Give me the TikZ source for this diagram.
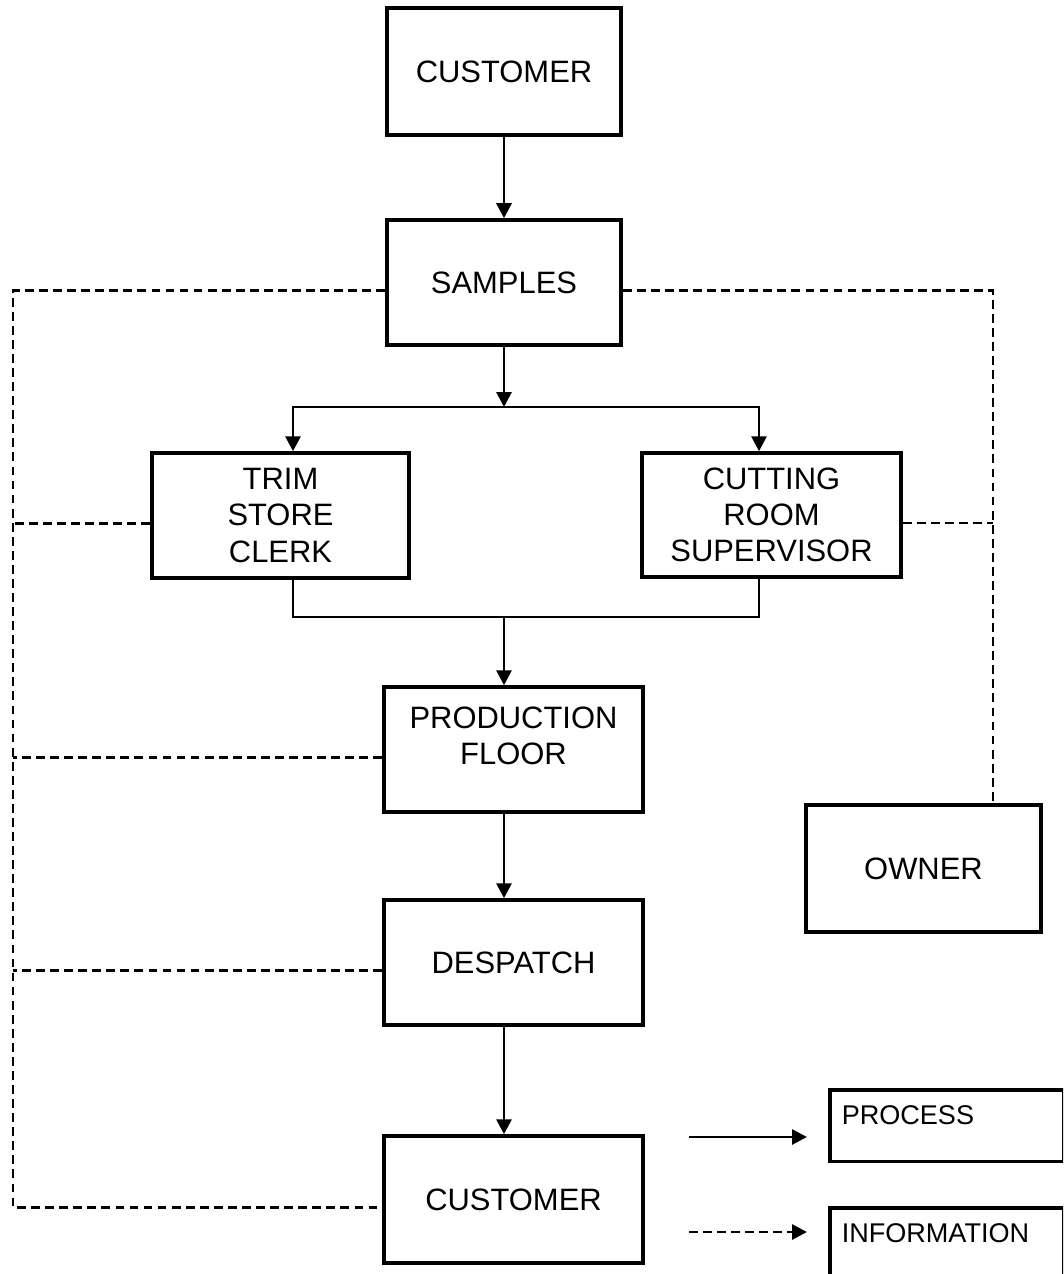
\documentclass[tikz,border=0pt]{standalone}
\usepackage{fontspec}
\setmainfont{Liberation Sans}
\usetikzlibrary{arrows.meta}

\begin{document}
\begin{tikzpicture}[box/.style={draw,line width=2pt,align=center,inner sep=0pt,
				font=\fontsize{17.6}{20.5}\selectfont},
				flow/.style={line width=1.6pt,-{Triangle[length=0.3cm,width=0.3cm]}},
				link/.style={line width=1.6pt},
				info/.style={line width=1.6pt,dash pattern=on 5pt off 3pt},
				legbox/.style={draw,line width=2pt,anchor=north west,align=left,
				text width=4.2cm,inner xsep=0.24cm,inner ysep=0.32cm,
				font=\fontsize{15.4}{18}\selectfont}]
\useasboundingbox (0,0) rectangle (21.26,-25.48);
\clip (0,0) rectangle (21.26,-25.48);
% boxes
\node[box,minimum width=4.68cm,minimum height=2.54cm] (cust1) at (10.08,-1.43) {CUSTOMER};
\node[box,minimum width=4.68cm,minimum height=2.5cm] (samples) at (10.08,-5.65) {SAMPLES};
\node[box,minimum width=5.14cm,minimum height=2.5cm] (trim) at (5.61,-10.31) {TRIM\\STORE\\CLERK};
\node[box,minimum width=5.18cm,minimum height=2.48cm] (cut) at (15.43,-10.3) {CUTTING\\ROOM\\SUPERVISOR};
\node[box,minimum width=5.18cm,minimum height=2.5cm,text depth=0.55cm] (prod) at (10.27,-14.99) {PRODUCTION\\FLOOR};
\node[box,minimum width=4.7cm,minimum height=2.54cm] (owner) at (18.47,-17.37) {OWNER};
\node[box,minimum width=5.18cm,minimum height=2.5cm] (desp) at (10.27,-19.25) {DESPATCH};
\node[box,minimum width=5.18cm,minimum height=2.54cm] (cust2) at (10.27,-23.99) {CUSTOMER};
% legend
\node[legbox,text depth=0.42cm] (procbox) at (16.56,-21.76) {PROCESS};
\node[legbox,text depth=0.9cm] (infobox) at (16.56,-24.12) {INFORMATION};

% process flow
\coordinate (split) at (10.08,-8.14);
\coordinate (merge) at (10.08,-12.34);
\draw[flow] (cust1.south) -- (samples.north);
\draw[flow] (samples.south) -- (split);
\draw[flow] (split) -| ([xshift=0.25cm]trim.north);
\draw[flow] (split) -| ([xshift=-0.25cm]cut.north);
\draw[link] ([xshift=0.25cm]trim.south) |- (merge) -| ([xshift=-0.25cm]cut.south);
\draw[flow] (merge) -- (merge |- prod.north);
\draw[flow] (prod.south -| merge) -- (desp.north -| merge);
\draw[flow] (desp.south -| merge) -- (cust2.north -| merge);

% information lines
\coordinate (lrail) at (0.26,0);
\coordinate (rrail) at (19.86,0);
\coordinate (samptap) at ([yshift=-0.16cm]samples.west);
\coordinate (samptapr) at ([yshift=-0.16cm]samples.east);
\coordinate (trimtap) at ([yshift=-0.16cm]trim.west);
\coordinate (cuttap) at ([yshift=-0.16cm]cut.east);
\coordinate (prodtap) at ([yshift=-0.16cm]prod.west);
\coordinate (desptap) at ([yshift=-0.16cm]desp.west);
\coordinate (custtap) at ([yshift=-0.16cm]cust2.west);
\draw[info] (samptap) -- (samptap -| lrail) -- (custtap -| lrail) -- (custtap);
\draw[info] (trimtap) -- (trimtap -| lrail);
\draw[info] (prodtap) -- (prodtap -| lrail);
\draw[info] (desptap) -- (desptap -| lrail);
\draw[info] (samptapr) -- (samptapr -| rrail) -- (owner.north -| rrail);
\draw[info] (cuttap) -- (cuttap -| rrail);

% legend arrows
\coordinate (p1) at (13.78,-22.74);
\coordinate (p2) at (16.14,-22.74);
\coordinate (i1) at (13.78,-24.64);
\coordinate (i2) at (16.14,-24.64);
\draw[flow] (p1) -- (p2);
\draw[flow,dash pattern=on 5pt off 3pt] (i1) -- (i2);
\end{tikzpicture}
\end{document}
